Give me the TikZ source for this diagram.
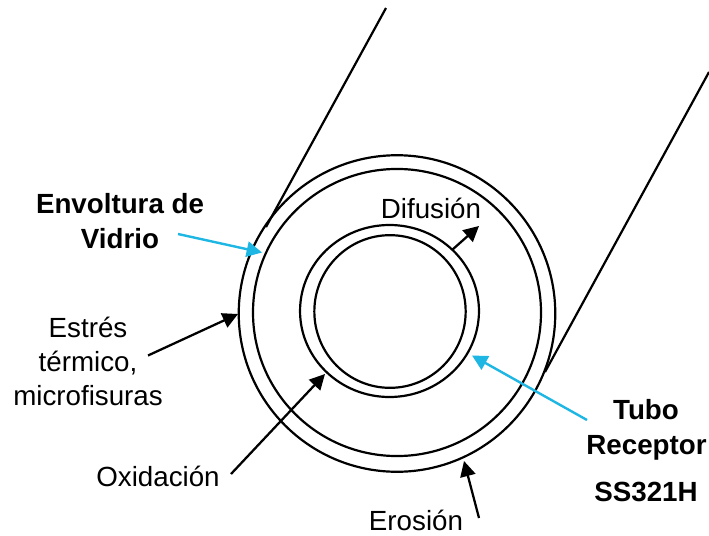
\documentclass[tikz,border=0pt]{standalone}
\usepackage{fontspec}
\setmainfont{Liberation Sans}
\usetikzlibrary{arrows.meta,shapes.geometric}
\definecolor{cyan1}{RGB}{30,182,226}
\tikzset{
  x=0.75pt,y=-0.75pt,
  ring/.style={draw=black,line width=1.65pt,ellipse,inner sep=0pt},
  wall/.style={draw=black,line width=1.65pt},
  lbl/.style={font=\fontsize{20.8pt}{25.5pt}\selectfont,align=center,inner sep=0pt},
  blbl/.style={lbl,font=\fontsize{20.8pt}{26pt}\selectfont\bfseries},
  blk/.style={draw=black,line width=1.7pt,-{Triangle[length=11.5pt,width=11.5pt]}},
  cyn/.style={draw=cyan1,line width=1.8pt,-{Triangle[length=11.5pt,width=11.5pt]}}
}
\begin{document}
\begin{tikzpicture}
\useasboundingbox (0,0) rectangle (709,535);
\node[ring,minimum width=237.4pt,minimum height=237.4pt] (o1) at (397,313.5) {};
\node[ring,minimum width=216pt,minimum height=215.3pt] (o2) at (397,312.5) {};
\node[ring,minimum width=134.2pt,minimum height=129pt] (i1) at (389.5,311) {};
\node[ring,minimum width=113.5pt,minimum height=114.5pt] (i2) at (390,311.5) {};
\coordinate (w1a) at (386,8);
\coordinate (w1b) at (266,227);
\coordinate (w2a) at (709,72);
\coordinate (w2b) at (545,372);
\draw[wall] (w1a) -- (w1b);
\draw[wall] (w2a) -- (w2b);
\node[blbl] (env) at (120,221) {Envoltura de\\Vidrio};
\node[lbl] (est) at (88,361) {Estrés\\térmico,\\microfisuras};
\node[lbl] (oxi) at (158,476) {Oxidación};
\node[lbl] (ero) at (416,520.5) {Erosión};
\node[lbl] (dif) at (431,208) {Difusión};
\node[blbl] (tub) at (646,410) {Tubo};
\node[blbl] (rec) at (646.5,447.5) {Receptor};
\node[blbl] (ss) at (646,492) {SS321H};
\coordinate (c1) at (178,234); \coordinate (c2) at (262,252.5);
\coordinate (c3) at (587,420); \coordinate (c4) at (472,355.5);
\coordinate (b1) at (148,355.5); \coordinate (b2) at (238,314);
\coordinate (b3) at (231,474); \coordinate (b4) at (325,374);
\coordinate (b5) at (479,518); \coordinate (b6) at (464,461);
\coordinate (b7) at (452,250); \coordinate (b8) at (479,226);
\draw[cyn] (c1) -- (c2);
\draw[cyn] (c3) -- (c4);
\draw[blk] (b1) -- (b2);
\draw[blk] (b3) -- (b4);
\draw[blk] (b5) -- (b6);
\draw[blk] (b7) -- (b8);
\end{tikzpicture}
\end{document}
